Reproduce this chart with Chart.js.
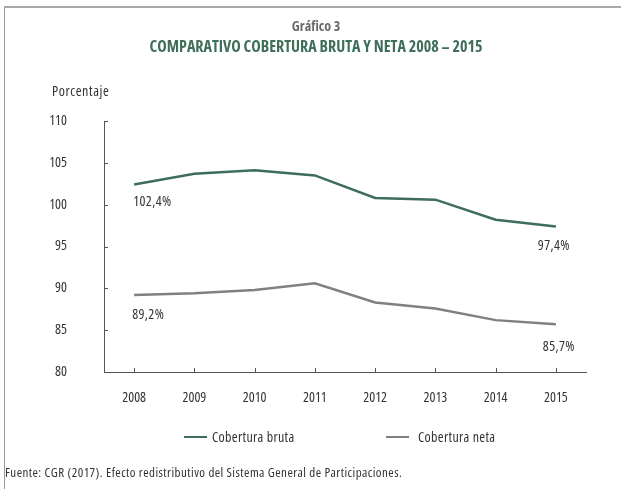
<!DOCTYPE html>
<html>
<head>
<meta charset="utf-8">
<script src="https://cdn.jsdelivr.net/npm/chart.js@4/dist/chart.umd.min.js"></script>
<style>
  html, body { margin: 0; padding: 0; background: #fff; }
  #wrap {
    position: relative; width: 621px; height: 489px; overflow: hidden;
    font-family: 'Open Sans', sans-serif;
    font-stretch: condensed;
    font-weight: 400;
    color: #333;
  }
  #frame {
    position: absolute; left: 4px; top: 6px; width: 700px; height: 600px;
    border-left: 1px solid #9a9a9a; border-top: 2px solid #a8a8a8;
  }
  #chart { position: absolute; left: 0; top: 0; }
  .t { position: absolute; white-space: nowrap; }
  #kicker { left: 0; width: 632px; text-align: center; top: 18px; font-size: 14px; line-height: 16px; font-weight: 700; color: #6a6a6a; }
  #title { left: 0; width: 632px; text-align: center; top: 37px; font-size: 16px; line-height: 18px; font-weight: 700; color: #3f6e5a; }
  #ylabel { left: 52px; top: 83px; font-size: 14px; line-height: 16px; letter-spacing: 0.6px; }
  #source { left: 5px; top: 465px; font-size: 13px; line-height: 15px; letter-spacing: 0.45px; }
  #legend { left: 0; top: 429px; width: 621px; height: 16px; }
  .lg { position: absolute; top: 0; font-size: 14px; line-height: 16px; letter-spacing: 0.35px; }
  .lg i { position: absolute; top: 7px; height: 2px; width: 23px; }
  .lg span { position: absolute; top: 0; }
</style>
</head>
<body>
<div id="wrap">
  <div id="frame"></div>
  <canvas id="chart" width="621" height="489"></canvas>
  <div class="t" id="kicker">Gráfico 3</div>
  <div class="t" id="title">COMPARATIVO COBERTURA BRUTA Y NETA 2008 – 2015</div>
  <div class="t" id="ylabel">Porcentaje</div>
  <div class="t" id="legend"></div>
  <div class="t" id="source">Fuente: CGR (2017). Efecto redistributivo del Sistema General de Participaciones.</div>
</div>
<script>
// Years on the horizontal axis
const years = ['2008', '2009', '2010', '2011', '2012', '2013', '2014', '2015'];
// Gross and net coverage, percent
const coberturaBruta = [102.4, 103.7, 104.1, 103.5, 100.8, 100.6, 98.2, 97.4];
const coberturaNeta = [89.2, 89.4, 89.8, 90.6, 88.3, 87.6, 86.2, 85.7];
// Vertical axis ticks
const yTicks = [80, 85, 90, 95, 100, 105, 110];

const seriesNames = ['Cobertura bruta', 'Cobertura neta'];
const seriesColors = ['#3e6d59', '#808081'];

const FONT = "'Open Sans', sans-serif";
Chart.defaults.font.family = FONT;
Chart.defaults.font.size = 14;
Chart.defaults.color = '#333';

const fmt = v => v.toFixed(1).replace('.', ',') + '%';

// Narrow glyphs for every text drawn on the canvas
const condensedText = {
  id: 'condensedText',
  beforeDraw(chart) { chart.ctx.fontStretch = 'condensed'; }
};

// Value labels at the first and last point of each line
const labelSpots = [
  { ds: 0, idx: 0, align: 'left', dx: -1, dy: 17 },
  { ds: 0, idx: 7, align: 'center', dx: -2, dy: 19.5 },
  { ds: 1, idx: 0, align: 'left', dx: -2, dy: 20 },
  { ds: 1, idx: 7, align: 'center', dx: 3, dy: 23 }
];

const endLabels = {
  id: 'endLabels',
  afterDatasetsDraw(chart) {
    const ctx = chart.ctx;
    ctx.save();
    ctx.font = '14px ' + FONT;
    ctx.fontStretch = 'condensed';
    if ('letterSpacing' in ctx) ctx.letterSpacing = '0.4px';
    ctx.fillStyle = '#333';
    ctx.textBaseline = 'middle';
    labelSpots.forEach(s => {
      const pt = chart.getDatasetMeta(s.ds).data[s.idx];
      const v = chart.data.datasets[s.ds].data[s.idx];
      ctx.textAlign = s.align;
      ctx.fillText(fmt(v), pt.x + s.dx, pt.y + s.dy);
    });
    ctx.restore();
  }
};

// Short tick marks pointing into the plot area
const innerTicks = {
  id: 'innerTicks',
  afterDraw(chart) {
    const ctx = chart.ctx;
    const { x, y } = chart.scales;
    ctx.save();
    ctx.strokeStyle = '#555';
    ctx.lineWidth = 1;
    ctx.beginPath();
    y.ticks.forEach((t, i) => {
      const py = Math.round(y.getPixelForTick(i)) + 0.5;
      ctx.moveTo(y.right, py);
      ctx.lineTo(y.right + 4, py);
    });
    x.ticks.forEach((t, i) => {
      const px = Math.round(x.getPixelForTick(i)) + 0.5;
      ctx.moveTo(px, x.top);
      ctx.lineTo(px, x.top - 4);
    });
    ctx.stroke();
    ctx.restore();
  }
};

const chart = new Chart(document.getElementById('chart'), {
  type: 'line',
  data: {
    labels: years,
    datasets: [
      { label: seriesNames[0], data: coberturaBruta, borderColor: seriesColors[0], backgroundColor: seriesColors[0], borderWidth: 2.5, pointRadius: 0, tension: 0 },
      { label: seriesNames[1], data: coberturaNeta, borderColor: seriesColors[1], backgroundColor: seriesColors[1], borderWidth: 2.5, pointRadius: 0, tension: 0 }
    ]
  },
  options: {
    responsive: false,
    animation: false,
    layout: { padding: { left: 0, right: 35, top: 121, bottom: 87 } },
    plugins: {
      legend: { display: false },
      tooltip: { enabled: false },
      title: { display: false }
    },
    scales: {
      x: {
        offset: true,
        grid: { display: true, drawOnChartArea: false, drawTicks: false, offset: false },
        border: { display: true, color: '#555', width: 1 },
        ticks: { padding: 18, color: '#333', maxRotation: 0, autoSkip: false },
        afterFit(scale) { scale.height = 30; }
      },
      y: {
        min: 80, max: 110,
        grid: { display: true, drawOnChartArea: false, drawTicks: false },
        border: { display: true, color: '#555', width: 1 },
        ticks: { padding: 37, color: '#333' },
        afterBuildTicks(scale) { scale.ticks = yTicks.map(v => ({ value: v })); },
        afterFit(scale) { scale.width = 104; }
      }
    }
  },
  plugins: [condensedText, endLabels, innerTicks]
});

// Legend built from the chart's datasets
const legendPos = [184, 386];
const legendTextGap = [28, 32];
const legendEl = document.getElementById('legend');
chart.data.datasets.forEach((ds, i) => {
  const item = document.createElement('div');
  item.className = 'lg';
  item.style.left = legendPos[i] + 'px';
  const sw = document.createElement('i');
  sw.style.background = ds.borderColor;
  const tx = document.createElement('span');
  tx.style.left = legendTextGap[i] + 'px';
  tx.textContent = ds.label;
  item.appendChild(sw);
  item.appendChild(tx);
  legendEl.appendChild(item);
});
</script>
</body>
</html>
